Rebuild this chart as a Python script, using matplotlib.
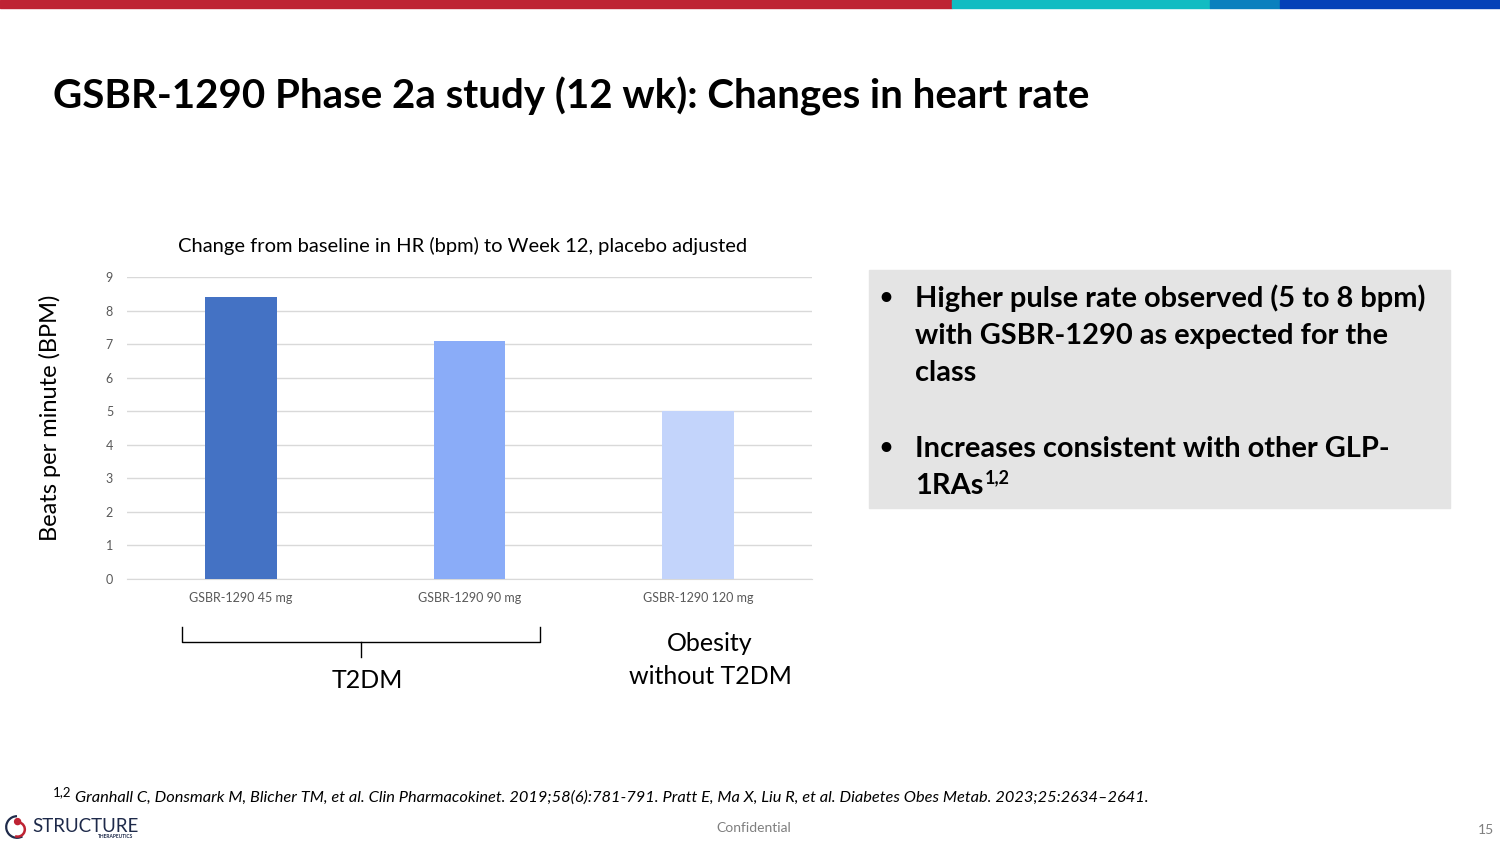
import matplotlib
matplotlib.use("Agg")
import matplotlib.pyplot as plt
from matplotlib.patches import Rectangle, Arc, Circle

# data
doses = ["GSBR-1290 45 mg", "GSBR-1290 90 mg", "GSBR-1290 120 mg"]
hr_change = [8.4, 7.1, 5.0]
bar_colors = ["#4472C4", "#8AACF8", "#C3D4FB"]
y_ticks = [0, 1, 2, 3, 4, 5, 6, 7, 8, 9]

W, H = 1500, 844
FONT = "Lato"
plt.rcParams['font.family'] = [FONT, 'DejaVu Sans']


def px(x, y):
    # pixel coords (top-left origin) -> figure fraction
    return x / W, 1 - y / H


fig = plt.figure(figsize=(15, 8.44), dpi=100)

# top colour strip
strip = [(0, 952, "#BE2333"), (952, 1210, "#12BCC2"), (1210, 1280, "#0B80BE"), (1280, 1500, "#0541B8")]
for x0, x1, c in strip:
    fig.patches.append(Rectangle(px(x0, 8), (x1 - x0) / W, 8 / H, transform=fig.transFigure,
                                 color=c, zorder=5))

fig.text(*px(53, 96), "GSBR-1290 Phase 2a study (12 wk): Changes in heart rate",
         fontsize=29, fontweight="bold", va="center", ha="left", color="black")

# bar chart
ax = fig.add_axes([127 / W, (H - 579) / H, 685 / W, 302 / H])
x = range(len(doses))
ax.bar(x, hr_change, width=0.315, color=bar_colors, zorder=3)
ax.set_xlim(-0.5, 2.5)
ax.set_ylim(0, 9)
ax.set_yticks(y_ticks)
ax.set_xticks(list(x))
ax.set_xticklabels(doses)
ax.grid(axis="y", color="#D9D9D9", linewidth=1, zorder=0)
for s in ["top", "right", "left"]:
    ax.spines[s].set_visible(False)
ax.spines["bottom"].set_color("#D9D9D9")
ax.tick_params(axis="both", length=0, labelsize=9, colors="#595959")
ax.tick_params(axis="y", pad=10)
ax.tick_params(axis="x", pad=9)
fig.text(*px(463, 246), "Change from baseline in HR (bpm) to Week 12, placebo adjusted",
         fontsize=14.5, color="black", ha="center", va="center")

fig.text(*px(50, 418), "Beats per minute (BPM)", rotation=90, fontsize=17,
         ha="center", va="center")

# bracket under T2DM doses
bx0, bx1, btop, bmid, bbot, bc = 182, 540, 627, 642, 657, 361
fig.lines.append(plt.Line2D([bx0 / W, bx0 / W, bx1 / W, bx1 / W],
                            [1 - btop / H, 1 - bmid / H, 1 - bmid / H, 1 - btop / H],
                            transform=fig.transFigure, color="black", linewidth=1))
fig.lines.append(plt.Line2D([bc / W, bc / W], [1 - bmid / H, 1 - bbot / H],
                            transform=fig.transFigure, color="black", linewidth=1))
fig.text(*px(367, 681), "T2DM", fontsize=18, ha="center", va="center")
fig.text(*px(710, 660), "Obesity\nwithout T2DM", fontsize=18, ha="center", va="center",
         linespacing=1.54)

# grey callout box
fig.patches.append(Rectangle(px(869, 508), (1450 - 869) / W, (508 - 270) / H,
                             transform=fig.transFigure, color="#E4E4E4", zorder=0))
bsize = 20.9
lines1 = "Higher pulse rate observed (5 to 8 bpm)\nwith GSBR-1290 as expected for the\nclass"
fig.text(*px(886, 297), "\u2022", fontsize=16, fontweight="bold", va="center", ha="center")
fig.text(*px(915, 335), lines1, fontsize=bsize, fontweight="bold", va="center", linespacing=1.51)
fig.text(*px(886, 447), "\u2022", fontsize=16, fontweight="bold", va="center", ha="center")
fig.text(*px(915, 449), "Increases consistent with other GLP-", fontsize=bsize,
         fontweight="bold", va="center")
t_ras = fig.text(*px(915, 486), "1RAs", fontsize=bsize, fontweight="bold", va="center")
fig.add_artist(plt.Annotation("1,2", xy=(1, 1), xycoords=t_ras, xytext=(1, 3),
                              textcoords="offset points", fontsize=13, fontweight="bold",
                              va="top", ha="left"))

# footnote
fig.text(*px(53, 792), "1,2", fontsize=9.5, va="center")
fig.text(*px(75, 798), "Granhall C, Donsmark M, Blicher TM, et al. Clin Pharmacokinet. 2019;58(6):781-791. "
         "Pratt E, Ma X, Liu R, et al. Diabetes Obes Metab. 2023;25:2634\u20132641.",
         fontsize=11.8, style="italic", va="center")

# footer
fig.text(*px(754, 828), "Confidential", fontsize=10, color="#7F7F7F", ha="center", va="center")
fig.text(*px(1494, 830), "15", fontsize=10, color="#7F7F7F", ha="right", va="center")
fig.text(*px(32, 826), "STRUCTURE", fontsize=13.5, color="#1E2A4A", va="center")
fig.text(*px(116, 836), "THERAPEUTICS", fontsize=3.5, color="#1E2A4A", ha="center",
         va="center", fontweight="bold")

# logo mark: two arcs with a red dot
lx, ly = px(17, 827)
logo = fig.add_axes([lx - 12 / W, ly - 12 / H, 24 / W, 24 / H])
logo.set_xlim(-1, 1)
logo.set_ylim(-1, 1)
logo.set_aspect("equal")
logo.axis("off")
logo.add_patch(Arc((0, 0), 1.8, 1.8, theta1=90, theta2=300, color="#1E2A4A", linewidth=1.6))
logo.add_patch(Arc((0.05, -0.2), 1.2, 1.2, theta1=250, theta2=80, color="#BE2333", linewidth=1.8))
logo.add_patch(Circle((0.05, 0.45), 0.25, color="#BE2333"))

fig.savefig("out.png", dpi=100)
